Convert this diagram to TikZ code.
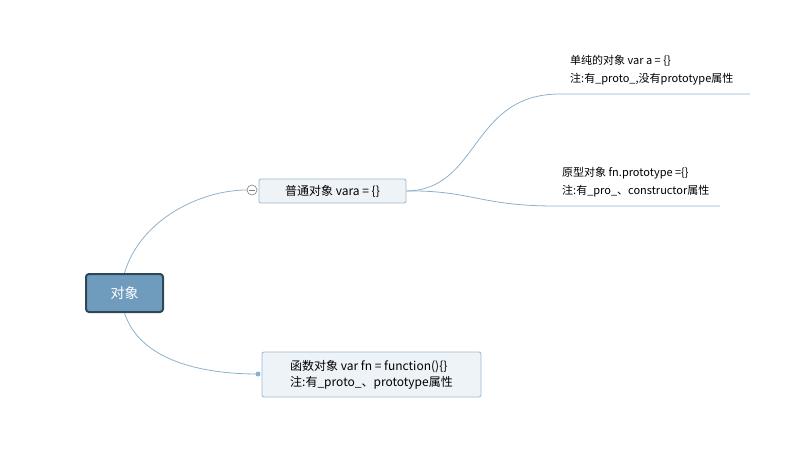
\documentclass[tikz,border=0pt]{standalone}
\usepackage{fontspec}
\setmainfont{Noto Sans CJK SC}
\begin{document}
\begin{tikzpicture}[x=1pt,y=-1pt,
  line/.style={draw=linec,line width=0.8pt},
  sub/.style={draw=subb,fill=subf,rounded corners=2pt,line width=0.8pt,font=\fontsize{12}{16}\selectfont,inner sep=0pt},
  leaf/.style={font=\fontsize{11}{18}\selectfont,align=left,anchor=north west,inner sep=0pt}]
\definecolor{linec}{HTML}{8EB1CB}
\definecolor{subb}{HTML}{9AB8D0}
\definecolor{subf}{HTML}{EEF3F8}
\definecolor{rootf}{HTML}{6F9CBD}
\definecolor{rootb}{HTML}{2F4858}
\useasboundingbox (0,0) rectangle (800,458);
\node[draw=rootb,fill=rootf,line width=2pt,rounded corners=3pt,minimum width=77pt,minimum height=38pt,text=white,font=\fontsize{14}{16}\selectfont] (root) at (124.5,293) {对象};
\node[sub,minimum width=147pt,minimum height=24pt] (n1) at (332.5,191) {普通对象 vara = \{\}};
\node[sub,minimum width=219pt,minimum height=45pt,align=left] (n2) at (371.5,374.5) {函数对象 var fn = function()\{\}\\注:有\_proto\_、prototype属性};
\node[leaf] (l1) at (570,55) {单纯的对象 var a = \{\}\\注:有\_proto\_,没有prototype属性};
\node[leaf] (l2) at (562,167) {原型对象 fn.prototype =\{\}\\注:有\_pro\_、constructor属性};
\coordinate (l1s) at (560,94); \coordinate (l1e) at (750,94);
\coordinate (l2s) at (555,206); \coordinate (l2e) at (720,206);
\coordinate (c1) at (247,190);
\coordinate (d2) at (258,374);
\draw[line] (root.north) .. controls (140,220) and (200,190) .. (c1);
\draw[draw=gray,fill=white,line width=0.6pt] (252,190) circle (5);
\draw[gray,line width=0.6pt] (249,190) -- (255,190);
\draw[line] (root.south) .. controls (140,360) and (200,374) .. (d2);
\fill[linec] (d2) circle (2.5);
\draw[line] (n1.east) .. controls (480,190) and (470,94) .. (l1s) -- (l1e);
\draw[line] (n1.east) .. controls (470,190) and (480,206) .. (l2s) -- (l2e);
\end{tikzpicture}
\end{document}
